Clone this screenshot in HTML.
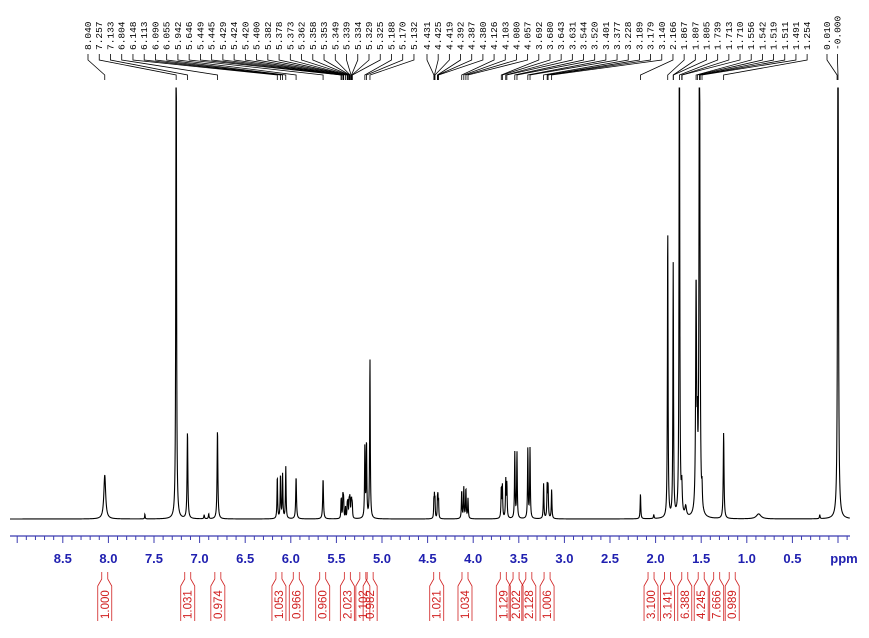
<!DOCTYPE html>
<html><head><meta charset="utf-8"><style>
html,body{margin:0;padding:0;background:#fff;}
svg{display:block;}
</style></head><body>
<svg id="chart" width="869" height="638" xmlns="http://www.w3.org/2000/svg">
<g id="peakLabels"></g>
<g id="spec"></g>
<g id="axis"></g>
<g id="integ"></g>
</svg>
<script>
// ---- data ----
const peakPpm = [8.040,7.60,7.257,7.133,6.95,6.90,6.804,6.148,6.113,6.090,6.055,5.942,5.646,
 5.449,5.445,5.429,5.424,5.420,5.400,5.382,5.378,5.373,5.362,5.358,5.353,5.349,5.339,5.334,5.329,5.325,
 5.188,5.170,5.132,4.431,4.425,4.419,4.392,4.387,4.380,4.126,4.103,4.080,4.057,
 3.692,3.680,3.643,3.631,3.544,3.520,3.401,3.377,3.228,3.189,3.179,3.140,2.166,2.02,
 1.867,1.807,1.805,1.739,1.713,1.67,1.556,1.542,1.519,1.511,1.491,1.254,0.87,0.2,0.000];
const peakHeight = [44,5,600,87,4,5,89,42,44,44,52,42,40,
 14,14,22,14,14,12,10,10,14,12,12,14,12,14,14,10,10,
 72,76,160,18,20,18,18,20,18,28,31,30,20,
 30,32,38,34,66,66,70,70,35,32,32,29,25,4,
 292,245,10,600,28,10,230,60,600,40,20,86,5,4,600];
const peakWidth = [0.012,0.003,0.004,0.005,0.004,0.004,0.005,0.004,0.004,0.004,0.004,0.005,0.005,
 0.003,0.003,0.003,0.003,0.003,0.003,0.003,0.003,0.003,0.003,0.003,0.003,0.003,0.003,0.003,0.003,0.003,
 0.004,0.004,0.004,0.003,0.003,0.003,0.003,0.003,0.003,0.004,0.004,0.004,0.004,
 0.004,0.004,0.004,0.004,0.004,0.004,0.004,0.004,0.004,0.004,0.004,0.004,0.004,0.004,
 0.004,0.004,0.004,0.004,0.006,0.01,0.006,0.004,0.005,0.004,0.004,0.005,0.03,0.004,0.005];
const labelTexts1 = ["8.040","7.257","7.133","6.804","6.148","6.113","6.090","6.055","5.942","5.646","5.449","5.445","5.429","5.424","5.420","5.400","5.382","5.378","5.373","5.362","5.358","5.353","5.349","5.339","5.334","5.329","5.325","5.188","5.170","5.132"];
const labelTexts2 = ["4.431","4.425","4.419","4.392","4.387","4.380","4.126","4.103","4.080","4.057","3.692","3.680","3.643","3.631","3.544","3.520","3.401","3.377","3.228","3.189","3.179","3.140","2.166","1.867","1.807","1.805","1.739","1.713","1.710","1.556","1.542","1.519","1.511","1.491","1.254"];
const labelTexts3 = ["0.010","-0.000"];
const tickLabels = [8.5,8.0,7.5,7.0,6.5,6.0,5.5,5.0,4.5,4.0,3.5,3.0,2.5,2.0,1.5,1.0,0.5];
const integValues = ["1.000","1.031","0.974","1.053","0.966","0.960","2.023","1.102","0.982","1.021","1.034","1.129","2.022","2.128","1.006","3.100","3.141","6.388","4.245","7.666","0.989"];
const integPpm = [8.04,7.13,6.80,6.13,5.94,5.65,5.38,5.21,5.13,4.40,4.09,3.67,3.53,3.39,3.19,2.05,1.87,1.68,1.50,1.33,1.16];

// ---- scales ----
const X0=838, PX=91.2, BASE=519, TOP=88;
const xs = p => X0 - PX*p;
const ys = h => Math.max(TOP, BASE - h);
const NS="http://www.w3.org/2000/svg";
function mk(tag, parent, attrs){const e=document.createElementNS(NS,tag);for(const k in attrs)e.setAttribute(k,attrs[k]);parent.appendChild(e);return e;}

// spectrum
const spec=document.getElementById('spec');
let d="";
for(let x=10;x<=850;x+=0.2){
  const p=(X0-x)/PX; let h=0;
  for(let i=0;i<peakPpm.length;i++){const dx=(p-peakPpm[i])/peakWidth[i];h+=peakHeight[i]/(1+dx*dx);}
  d+=(d?"L":"M")+x.toFixed(1)+" "+ys(h).toFixed(2);
}
const path=mk('path',spec,{d:d,fill:'none',stroke:'#000','stroke-width':1.1});



// axis
const ax=document.getElementById('axis');
const axl=mk('line',ax,{x1:10,y1:536,x2:850,y2:536,stroke:'#3b3bb0','stroke-width':1.2});


for(let k=-1;k<=90;k++){
  const p=k/10, x=xs(p); if(x<10||x>850) continue;
  const major=(k%5===0);
  mk('line',ax,{x1:x,y1:536,x2:x,y2:major?543:540,stroke:'#3b3bb0','stroke-width':1});
}
tickLabels.forEach(v=>{
  const t=mk('text',ax,{x:xs(v),y:563,'text-anchor':'middle','font-family':'Liberation Sans, sans-serif','font-size':13,'font-weight':'bold',fill:'#2020b0'});
  t.textContent=v.toFixed(1);
  
  
});
const ppm=mk('text',ax,{x:844,y:563,'text-anchor':'middle','font-family':'Liberation Sans, sans-serif','font-size':13,'font-weight':'bold',fill:'#2020b0'});
ppm.textContent='ppm';



// peak labels
const pl=document.getElementById('peakLabels');
function group(texts,x0,step){
  texts.forEach((s,i)=>{
    const lx=x0+i*step, px=xs(parseFloat(s));
    const t=mk('text',pl,{x:0,y:0,transform:`translate(${lx+3},50) rotate(-90)`,'font-family':'Liberation Mono, monospace','font-size':9.5,fill:'#000'});
    t.textContent=s;
    
    
    mk('polyline',pl,{points:`${lx},54 ${lx},60 ${px},75 ${px},80`,fill:'none',stroke:'#000','stroke-width':0.8});
  });
}
group(labelTexts1,88,11.24);
group(labelTexts2,427,11.18);
group(labelTexts3,827,10.5);

// integrals
const ig=document.getElementById('integ');
integValues.forEach((v,i)=>{
  const cx=xs(integPpm[i]);
  mk('polyline',ig,{points:`${cx-3},572 ${cx-3},579 ${cx-7},586 ${cx-7},621`,fill:'none',stroke:'#d02020','stroke-width':0.8});
  mk('polyline',ig,{points:`${cx+3},572 ${cx+3},579 ${cx+7},586 ${cx+7},621`,fill:'none',stroke:'#d02020','stroke-width':0.8});
  const t=mk('text',ig,{x:0,y:0,transform:`translate(${cx+4},619) rotate(-90)`,'font-family':'Liberation Sans, sans-serif','font-size':11.5,fill:'#d02020'});
  t.textContent=v;
  
  
});
</script>
</body></html>
